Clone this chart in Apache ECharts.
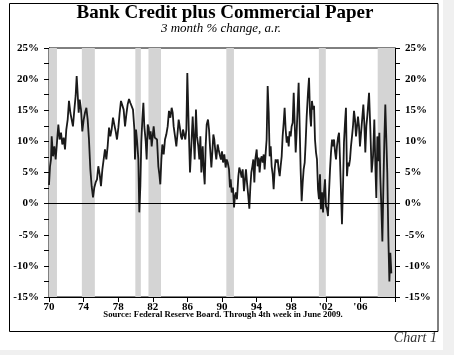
<!DOCTYPE html>
<html><head><meta charset="utf-8">
<script src="https://cdn.jsdelivr.net/npm/echarts@6/dist/echarts.min.js"></script>
<style>html,body{margin:0;padding:0;background:#f0f0f0;}#c{width:454px;height:355px;}</style>
</head><body><div id="c"></div>
<script>
// Decimal year of each observation
const years = [
1970.00,1970.12,1970.23,1970.31,1970.46,1970.62,1970.77,1970.92,1971.08,1971.23,1971.39,1971.54,1971.70,1971.85,
1972.00,1972.16,1972.31,1972.47,1972.62,1972.77,1972.93,1973.08,1973.20,1973.31,1973.43,1973.55,1973.70,1973.85,
1974.01,1974.16,1974.32,1974.47,1974.62,1974.78,1974.93,1975.09,1975.24,1975.39,1975.55,1975.70,1975.86,
1976.01,1976.17,1976.32,1976.47,1976.63,1976.78,1976.94,1977.09,1977.24,1977.40,1977.55,1977.71,1977.86,
1978.02,1978.17,1978.32,1978.48,1978.63,1978.79,1978.94,1979.09,1979.25,1979.40,1979.56,1979.71,1979.87,1979.94,
1980.06,1980.17,1980.33,1980.44,1980.56,1980.67,1980.79,1980.91,1981.02,1981.18,1981.29,1981.41,1981.52,1981.64,1981.75,1981.87,1981.98,
1982.10,1982.22,1982.37,1982.49,1982.64,1982.76,1982.87,1982.99,1983.10,1983.26,1983.41,1983.56,1983.72,1983.87,
1984.03,1984.18,1984.30,1984.41,1984.57,1984.72,1984.88,1984.99,1985.11,1985.26,1985.38,1985.49,1985.65,1985.76,1985.88,1985.99,
1986.15,1986.30,1986.45,1986.61,1986.72,1986.84,1986.99,1987.11,1987.26,1987.38,1987.50,1987.61,1987.77,1987.88,
1988.00,1988.11,1988.23,1988.38,1988.50,1988.61,1988.77,1988.88,1989.00,1989.11,1989.23,1989.34,1989.50,1989.61,1989.73,1989.88,
1990.00,1990.12,1990.27,1990.42,1990.54,1990.66,1990.81,1990.92,1991.00,1991.12,1991.27,1991.39,1991.50,1991.62,1991.73,1991.89,
1992.00,1992.16,1992.27,1992.39,1992.54,1992.66,1992.77,1992.89,1993.04,1993.16,1993.28,1993.39,1993.51,1993.62,1993.74,1993.85,
1994.01,1994.12,1994.24,1994.35,1994.47,1994.59,1994.70,1994.82,1994.93,1995.05,1995.16,1995.28,1995.40,1995.51,1995.63,1995.74,1995.86,1995.97,
1996.09,1996.20,1996.32,1996.44,1996.55,1996.67,1996.78,1996.90,1997.01,1997.13,1997.24,1997.36,1997.48,1997.59,1997.71,1997.82,1997.94,
1998.05,1998.17,1998.29,1998.40,1998.52,1998.63,1998.75,1998.86,1998.98,1999.09,1999.21,1999.33,1999.44,1999.56,1999.67,1999.79,1999.94,
2000.06,2000.17,2000.29,2000.40,2000.52,2000.64,2000.75,2000.87,2000.98,2001.10,2001.21,2001.33,2001.44,2001.56,2001.68,2001.79,2001.91,
2002.02,2002.14,2002.25,2002.37,2002.49,2002.60,2002.72,2002.83,2002.95,2003.06,2003.18,2003.29,2003.41,2003.53,2003.64,2003.76,2003.87,2003.99,
2004.10,2004.22,2004.33,2004.45,2004.57,2004.68,2004.80,2004.91,2005.03,2005.14,2005.26,2005.38,2005.49,2005.61,2005.72,2005.84,2005.95,
2006.15,2006.34,2006.45,2006.57,2006.69,2006.80,2007.00,2007.15,2007.30,2007.46,2007.61,2007.73,2007.84,2007.96,
2008.07,2008.19,2008.30,2008.42,2008.54,2008.65,2008.77,2008.88,2009.00,2009.11,2009.23,2009.35,2009.46,2009.58
];
// 3 month % change, annualized
const values = [
3.0,6.0,7.1,10.8,7.6,9.2,7.1,9.8,12.7,10.3,11.4,9.5,10.6,8.7,
11.9,13.5,16.5,14.6,13.5,12.4,15.1,17.3,20.5,17.8,14.6,16.7,15.1,11.6,
13.5,14.6,15.4,13.5,10.3,5.5,2.8,1.0,2.6,3.4,3.9,6.0,4.7,
2.8,5.5,7.1,8.7,7.1,9.2,12.2,10.8,11.9,13.8,12.7,11.6,10.3,
12.2,14.6,16.5,16.7,15.1,12.4,14.3,15.9,16.8,16.2,16.5,15.1,11.9,7.1,
11.9,10.3,7.1,-1.4,2.8,9.8,13.5,16.2,12.4,10.0,7.1,12.7,12.2,10.3,11.6,9.2,10.8,
12.4,10.6,10.3,10.3,6.0,4.7,3.1,7.1,9.5,7.9,10.3,11.1,12.4,14.9,
13.8,15.4,14.6,12.4,10.8,9.2,11.6,13.5,12.4,10.8,10.3,11.9,11.6,10.3,11.9,21.0,
12.4,5.0,9.2,14.0,14.3,7.1,15.1,10.8,9.2,7.1,10.8,5.0,9.2,5.5,
3.1,9.2,12.7,13.5,11.9,9.2,5.8,8.2,11.1,10.3,8.4,7.1,9.5,8.7,7.9,7.1,
8.4,6.6,7.9,5.8,7.1,6.6,5.5,2.6,3.9,1.8,2.6,-0.6,1.2,1.8,0.7,4.4,
5.8,5.0,4.2,5.5,2.0,3.9,5.5,3.4,1.2,-0.8,2.8,5.0,6.0,7.1,3.4,7.1,
8.7,6.0,7.4,5.0,7.1,7.6,6.6,7.9,5.5,8.2,10.3,18.9,14.6,7.6,9.2,6.0,4.7,2.3,
5.5,7.1,6.6,7.1,5.5,4.4,6.0,7.6,10.8,13.0,15.4,11.9,9.8,10.8,9.2,11.6,10.8,
12.4,13.0,17.8,13.0,8.2,11.4,15.7,19.4,12.4,5.5,0.4,3.4,5.5,6.6,9.8,14.0,17.8,
20.2,14.6,12.4,16.5,15.1,15.7,10.3,8.2,7.1,2.3,0.7,4.7,-0.9,1.8,-1.4,1.8,3.9,
-0.4,-0.9,-2.0,1.8,5.5,8.2,10.3,9.2,10.3,8.4,7.1,9.2,10.6,11.4,7.1,1.8,-3.3,2.8,
9.8,13.0,15.4,4.4,6.6,6.0,7.1,9.2,10.8,12.4,14.9,13.5,10.8,12.4,14.0,12.4,9.2,
9.0,15.9,13.0,8.2,12.5,14.1,17.8,11.9,5.0,7.6,13.5,6.0,0.9,10.8,
6.8,11.4,4.3,-0.4,-6.1,2.3,10.3,15.9,16.2,4.9,-5.3,-12.5,-7.9,-11.2
];
// Recession periods (shaded)
const recessionStart = [1970.0, 1973.8, 1979.98, 1981.5, 1990.5, 2001.2, 2008.0];
const recessionEnd   = [1970.92, 1975.3, 1980.62, 1982.95, 1991.38, 2002.0, 2010.0];
// Axis tick labels
const xTickLabels = ['70','74','78','82','86','90','94','98',"'02","'06",''];
const yTickValues = [-15,-10,-5,0,5,10,15,20,25];

const chart = echarts.init(document.getElementById('c'), null, {renderer:'canvas'});
const serif = "'Liberation Serif', 'Times New Roman', serif";
const yAxisCommon = {
  type:'value', min:-15, max:25, interval:2.5,
  axisLine:{show:true, lineStyle:{color:'#000', width:1}},
  axisTick:{show:true, inside:false, length:5, lineStyle:{color:'#000'}},
  splitLine:{show:false},
  axisLabel:{fontFamily:serif, fontWeight:'bold', fontSize:11, color:'#000', margin:10,
    formatter: v => yTickValues.includes(v) ? v + '%' : ''}
};
chart.setOption({
  backgroundColor:'#f0f0f0',
  animation:false,
  graphic:[
    {type:'rect', z:-20, shape:{x:0,y:0,width:443,height:350}, style:{fill:'#fff'}},
    {type:'rect', z:-19, shape:{x:9.5,y:3.5,width:428.5,height:328}, style:{fill:'none', stroke:'#000', lineWidth:1}},
    {type:'text', x:225, y:13, style:{text:'Bank Credit plus Commercial Paper', font:"bold 19px "+serif, fill:'#000', align:'center', verticalAlign:'middle'}},
    {type:'text', x:221, y:29, style:{text:'3 month % change, a.r.', font:"italic 13px "+serif, fill:'#000', align:'center', verticalAlign:'middle'}},
    {type:'text', x:223, y:314.5, style:{text:'Source: Federal Reserve Board. Through 4th week in June 2009.', font:"bold 8.7px "+serif, fill:'#000', align:'center', verticalAlign:'middle'}},
    {type:'text', x:437, y:338, style:{text:'Chart 1', font:"italic 14px "+serif, fill:'#333', align:'right', verticalAlign:'middle'}}
  ],
  grid:{left:49, right:59, top:48, bottom:58, show:true, borderColor:'#000', borderWidth:1, backgroundColor:'transparent'},
  xAxis:{type:'value', min:1970, max:2010, interval:4,
    axisLine:{show:true, onZero:false, lineStyle:{color:'#000'}},
    axisTick:{show:true, length:5, lineStyle:{color:'#000'}},
    splitLine:{show:false},
    axisLabel:{fontFamily:serif, fontWeight:'bold', fontSize:11, color:'#000', margin:5,
      formatter: v => xTickLabels[Math.round((v-1970)/4)] || ''}},
  yAxis:[Object.assign({position:'left'}, yAxisCommon), Object.assign({position:'right'}, yAxisCommon)],
  series:[{
    type:'line', showSymbol:false, xAxisIndex:0, yAxisIndex:0,
    data: years.map((y,i)=>[y, values[i]]),
    lineStyle:{color:'#1a1a1a', width:1.8},
    markArea:{silent:true, itemStyle:{color:'#d4d4d4'},
      data: recessionStart.map((s,i)=>[{xAxis:s},{xAxis:recessionEnd[i]}])},
    markLine:{silent:true, symbol:'none', label:{show:false}, lineStyle:{color:'#000', type:'solid', width:1},
      data:[{yAxis:0}]}
  }]
});
</script></body></html>
